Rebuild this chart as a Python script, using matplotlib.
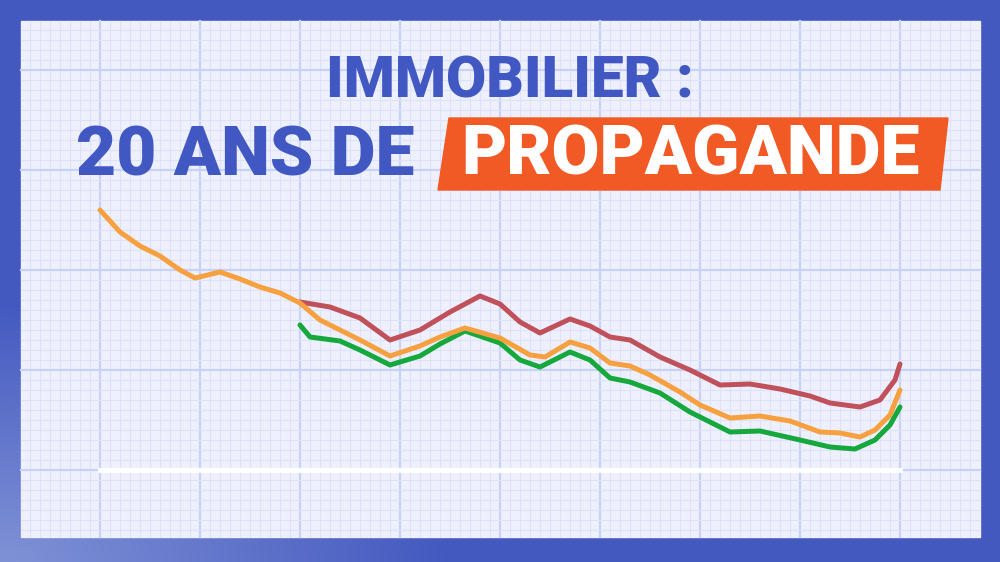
import numpy as np
import matplotlib.pyplot as plt
from matplotlib.patches import Rectangle, Polygon

# Series (x: horizontal position, y: vertical position, picture scale)
orange_x = [100, 120, 140, 160, 180, 195, 220, 240, 260, 280, 300, 320, 340, 360, 390, 420, 440, 465,
            500, 530, 545, 570, 590, 610, 630, 650, 680, 700, 730, 760, 790, 820, 840, 860, 875, 890, 900]
orange_y = [210, 232, 246, 256, 270, 278, 272, 279, 287, 293, 303, 320, 330, 340, 356, 346, 337, 328,
            338, 355, 357, 342, 348, 363, 366, 375, 392, 405, 418, 416, 421, 432, 433, 437, 430, 415, 390]
red_x = [300, 330, 360, 390, 420, 450, 480, 500, 520, 540, 570, 590, 610, 630, 660, 690, 720, 750, 780,
         810, 830, 860, 880, 895, 900]
red_y = [302, 307, 318, 340, 330, 312, 296, 304, 322, 333, 319, 326, 337, 340, 357, 370, 385, 384, 389,
         396, 403, 407, 400, 380, 364]
green_x = [300, 310, 340, 360, 390, 420, 440, 465, 500, 520, 540, 570, 590, 610, 630, 660, 690, 730, 760,
           800, 830, 855, 875, 890, 900]
green_y = [325, 337, 341, 350, 365, 356, 344, 331, 343, 360, 367, 352, 360, 378, 382, 393, 412, 432, 431,
           440, 447, 449, 440, 425, 407]

fig = plt.figure(figsize=(10, 5.62), dpi=100)
ax = fig.add_axes([0, 0, 1, 1])
ax.set_xlim(0, 1000)
ax.set_ylim(562, 0)
ax.axis("off")

# blue frame with a lighter bottom-left corner
grad = np.zeros((562, 1000, 3))
yy, xx = np.mgrid[0:562, 0:1000]
d = np.clip(1 - np.hypot(xx / 450, (562 - yy) / 260), 0, 1)
base = np.array([0x44, 0x59, 0xC0]) / 255
light = np.array([0x80, 0x92, 0xD6]) / 255
grad[:] = base + (light - base) * d[..., None]
ax.imshow(grad, extent=[0, 1000, 562, 0], zorder=0)

# graph paper panel
ax.add_patch(Rectangle((21, 21), 959, 516, color="#EEF1FD", zorder=1))
for x in range(30, 980, 10):
    major = x % 100 == 0
    ax.plot([x, x], [21, 537], color="#C8D1F6" if major else "#DCE2FA",
            lw=1.6 if major else 0.8, zorder=2)
for y in range(30, 537, 10):
    major = y % 100 == 70
    ax.plot([21, 980], [y, y], color="#C8D1F6" if major else "#DCE2FA",
            lw=1.6 if major else 0.8, zorder=2)

# baseline
ax.plot([100, 900], [470, 470], color="white", lw=3.5, zorder=3)

style = dict(lw=3.6, solid_capstyle="round", solid_joinstyle="round")
ax.plot(red_x, red_y, color="#C0505A", zorder=4, **style)
ax.plot(green_x, green_y, color="#16A83C", zorder=4, **style)
ax.plot(orange_x, orange_y, color="#F7A040", zorder=5, **style)

# title
font = dict(family="Roboto", fontweight="black", color="#4157C2", zorder=7)
ax.text(510, 82, "IMMOBILIER :", ha="center", va="center", fontsize=42, **font)
ax.text(245, 157, "20 ANS DE", ha="center", va="center", fontsize=50, **font)
ax.add_patch(Polygon([[449, 118], [948, 118], [940, 190], [438, 190]], color="#F15A24", zorder=6))
ax.text(690, 156, "PROPAGANDE", ha="center", va="center", fontsize=50,
        family="Roboto", fontweight="black", color="white", zorder=7)

fig.savefig("out.png", dpi=100)
